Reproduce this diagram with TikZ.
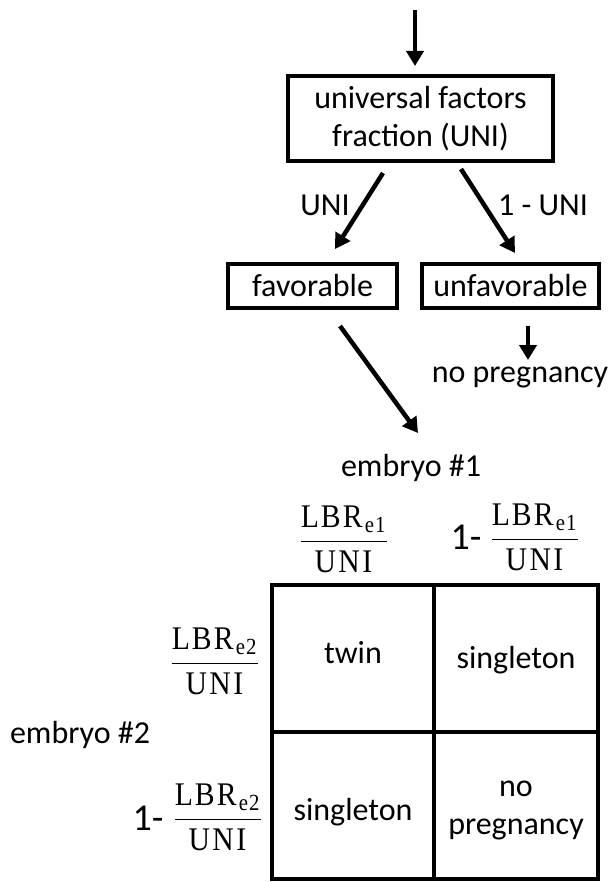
\RequirePackage{fix-cm}
\documentclass[tikz,border=0pt]{standalone}
\usepackage{fontspec}
\setmainfont{Carlito}
\setmathrm[FakeStretch=0.9]{Liberation Serif}
\usetikzlibrary{arrows.meta}
\newcommand{\myfrac}[2]{\displaystyle\frac{#1}{#2}}
\tikzset{
 box/.style={draw, line width=3.5pt, minimum height=44pt, inner sep=0pt, align=center, font=\fontsize{32}{38}\selectfont},
 txt/.style={font=\fontsize{32}{38}\selectfont, align=center, inner sep=0pt},
 arr/.style={line width=4.5pt, -{Triangle[length=15pt,width=17pt]}},
 cell/.style={draw, line width=4pt, inner sep=0pt},
 fracnode/.style={font=\fontsize{33}{40}\selectfont, inner sep=0pt},
 onenode/.style={font=\fontsize{38}{44}\selectfont, inner sep=0pt},
}
\begin{document}
\begin{tikzpicture}[x=1pt,y=-1pt]
\useasboundingbox (0,0) rectangle (611,882);
% top box
\node[box, minimum width=265pt, minimum height=85pt] (uni) at (420.5,118.5) {universal factors\\fraction (UNI)};
\coordinate (top) at (415,10);
\coordinate (topend) at (415,66);
\draw[arr] (top) -- (topend);
% branches
\node[box, minimum width=169pt] (fav) at (312.5,286) {favorable};
\node[box, minimum width=177pt] (unf) at (510.5,286) {unfavorable};
\coordinate (a1s) at (383,173);
\coordinate (a1e) at (335,249);
\coordinate (a2s) at (461,169);
\coordinate (a2e) at (515,253);
\draw[arr] (a1s) -- (a1e);
\draw[arr] (a2s) -- (a2e);
\node[txt] (lbluni) at (325,205) {UNI};
\node[txt] (lblnuni) at (543,205) {1 - UNI};
% unfavorable -> no pregnancy
\coordinate (a3s) at (528,326);
\coordinate (a3e) at (528,360);
\draw[arr] (a3s) -- (a3e);
\node[txt] (nopreg) at (520,377) {no pregnancy};
% favorable -> embryo
\coordinate (a4s) at (340,326);
\coordinate (a4e) at (418,433);
\draw[arr] (a4s) -- (a4e);
\node[txt] (emb1) at (411,468) {embryo \#1};
% column headers
\node[fracnode] (frac1) at (344,539) {$\myfrac{\mathrm{LBR}_{\mathrm{e1}}}{\mathrm{UNI}}$};
\node[onenode] (one1) at (466,537) {1-};
\node[fracnode] (frac2) at (535,537) {$\myfrac{\mathrm{LBR}_{\mathrm{e1}}}{\mathrm{UNI}}$};
% grid
\node[cell, minimum width=162pt, minimum height=147pt] (c11) at (353,658.5) {};
\node[cell, minimum width=164pt, minimum height=147pt] (c12) at (516,658.5) {};
\node[cell, minimum width=162pt, minimum height=147pt] (c21) at (353,805.5) {};
\node[cell, minimum width=164pt, minimum height=147pt] (c22) at (516,805.5) {};
\node[txt] (t11) at (353,653) {twin};
\node[txt] (t12) at (516,660) {singleton};
\node[txt] (t21) at (353,812) {singleton};
\node[txt] (t22) at (516,810) {no\\pregnancy};
% row headers
\node[fracnode] (frac3) at (215,661) {$\myfrac{\mathrm{LBR}_{\mathrm{e2}}}{\mathrm{UNI}}$};
\node[onenode] (one2) at (148,818) {1-};
\node[fracnode] (frac4) at (218,817) {$\myfrac{\mathrm{LBR}_{\mathrm{e2}}}{\mathrm{UNI}}$};
\node[txt] (emb2) at (80,735) {embryo \#2};
\end{tikzpicture}
\end{document}
